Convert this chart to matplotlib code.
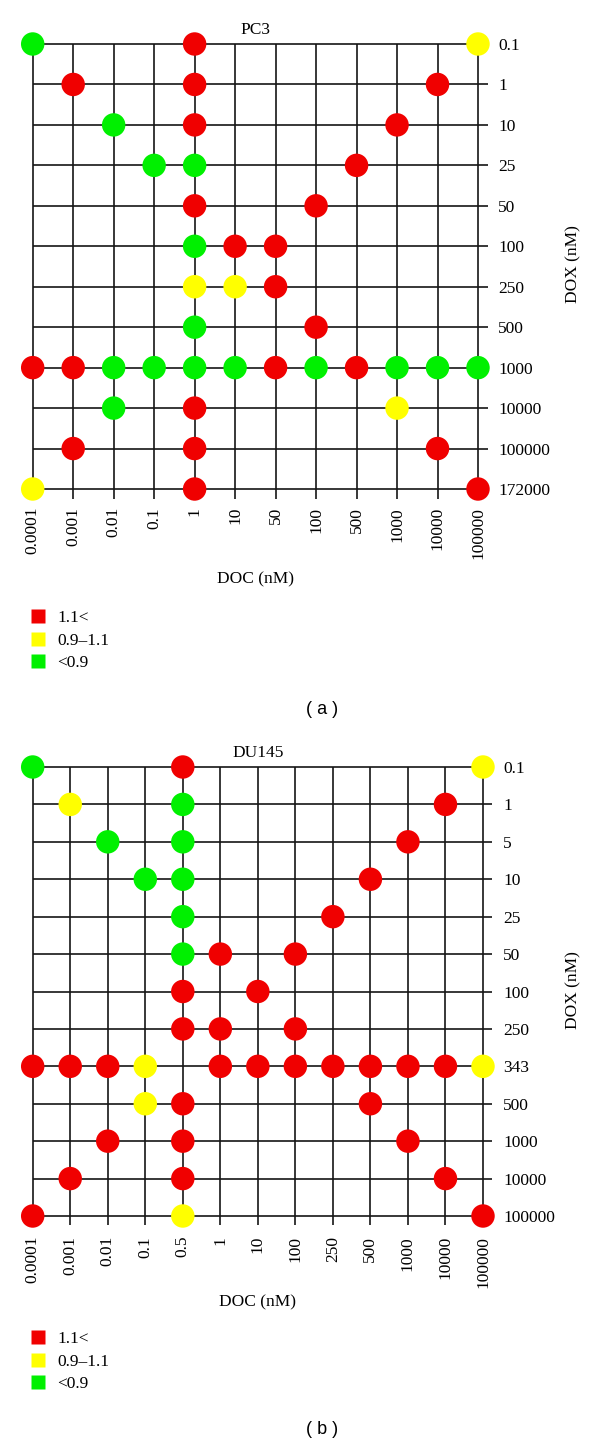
import matplotlib.pyplot as plt
from matplotlib.lines import Line2D

plt.rcParams['font.family'] = 'Liberation Serif'

COLORS = {'high': '#f00000', 'mid': '#ffff00', 'low': '#00f000'}
LEGEND_LABELS = {'high': '1.1<', 'mid': '0.9\u20131.1', 'low': '<0.9'}

# panel (a) PC3
PC3_DOC = ['0.0001', '0.001', '0.01', '0.1', '1', '10', '50', '100', '500',
           '1000', '10000', '100000']
PC3_DOX = ['0.1', '1', '10', '25', '50', '100', '250', '500', '1000',
           '10000', '100000', '172000']
# (DOX, DOC, class)
PC3_POINTS = [
    ('0.1', '0.0001', 'low'), ('0.1', '1', 'high'), ('0.1', '100000', 'mid'),
    ('1', '0.001', 'high'), ('1', '1', 'high'), ('1', '10000', 'high'),
    ('10', '0.01', 'low'), ('10', '1', 'high'), ('10', '1000', 'high'),
    ('25', '0.1', 'low'), ('25', '1', 'low'), ('25', '500', 'high'),
    ('50', '1', 'high'), ('50', '100', 'high'),
    ('100', '1', 'low'), ('100', '10', 'high'), ('100', '50', 'high'),
    ('250', '1', 'mid'), ('250', '10', 'mid'), ('250', '50', 'high'),
    ('500', '1', 'low'), ('500', '100', 'high'),
    ('1000', '0.0001', 'high'), ('1000', '0.001', 'high'), ('1000', '0.01', 'low'),
    ('1000', '0.1', 'low'), ('1000', '1', 'low'), ('1000', '10', 'low'),
    ('1000', '50', 'high'), ('1000', '100', 'low'), ('1000', '500', 'high'),
    ('1000', '1000', 'low'), ('1000', '10000', 'low'), ('1000', '100000', 'low'),
    ('10000', '0.01', 'low'), ('10000', '1', 'high'), ('10000', '1000', 'mid'),
    ('100000', '0.001', 'high'), ('100000', '1', 'high'), ('100000', '10000', 'high'),
    ('172000', '0.0001', 'mid'), ('172000', '1', 'high'), ('172000', '100000', 'high'),
]

# panel (b) DU145
DU145_DOC = ['0.0001', '0.001', '0.01', '0.1', '0.5', '1', '10', '100', '250',
             '500', '1000', '10000', '100000']
DU145_DOX = ['0.1', '1', '5', '10', '25', '50', '100', '250', '343', '500',
             '1000', '10000', '100000']
DU145_POINTS = [
    ('0.1', '0.0001', 'low'), ('0.1', '0.5', 'high'), ('0.1', '100000', 'mid'),
    ('1', '0.001', 'mid'), ('1', '0.5', 'low'), ('1', '10000', 'high'),
    ('5', '0.01', 'low'), ('5', '0.5', 'low'), ('5', '1000', 'high'),
    ('10', '0.1', 'low'), ('10', '0.5', 'low'), ('10', '500', 'high'),
    ('25', '0.5', 'low'), ('25', '250', 'high'),
    ('50', '0.5', 'low'), ('50', '1', 'high'), ('50', '100', 'high'),
    ('100', '0.5', 'high'), ('100', '10', 'high'),
    ('250', '0.5', 'high'), ('250', '1', 'high'), ('250', '100', 'high'),
    ('343', '0.0001', 'high'), ('343', '0.001', 'high'), ('343', '0.01', 'high'),
    ('343', '0.1', 'mid'), ('343', '1', 'high'), ('343', '10', 'high'),
    ('343', '100', 'high'), ('343', '250', 'high'), ('343', '500', 'high'),
    ('343', '1000', 'high'), ('343', '10000', 'high'), ('343', '100000', 'mid'),
    ('500', '0.1', 'mid'), ('500', '0.5', 'high'), ('500', '500', 'high'),
    ('1000', '0.01', 'high'), ('1000', '0.5', 'high'), ('1000', '1000', 'high'),
    ('10000', '0.001', 'high'), ('10000', '0.5', 'high'), ('10000', '10000', 'high'),
    ('100000', '0.0001', 'high'), ('100000', '0.5', 'mid'), ('100000', '100000', 'high'),
]

W, H = 600, 1447
fig = plt.figure(figsize=(W / 100, H / 100), dpi=100)


def draw_panel(doc, dox, points, title, x0, x1, y0, y1, bot, xpad, ypad,
               title_y, doclab_y, legend_top, caption, caption_y):
    ncol, nrow = len(doc), len(dox)
    dx = (x1 - x0) / (ncol - 1)
    dy = (y1 - y0) / (nrow - 1)
    left = x0 - 0.5 * dx
    right = x1 + 0.5 * dx
    top = y0 - 0.5 * dy
    bottom = y1 + bot * dy
    ax = fig.add_axes([left / W, 1 - bottom / H, (right - left) / W, (bottom - top) / H])
    ax.set_xlim(-0.5, ncol - 0.5)
    ax.set_ylim(nrow - 1 + bot, -0.5)
    for s in ax.spines.values():
        s.set_visible(False)

    # grid lines, each running a little past the last row / column
    ax.hlines(range(nrow), 0, ncol - 1 + 0.25, color='#151515', lw=1.2, clip_on=False)
    ax.vlines(range(ncol), 0, nrow - 1 + 0.25, color='#151515', lw=1.2, clip_on=False)

    xs = [doc.index(p[1]) for p in points]
    ys = [dox.index(p[0]) for p in points]
    cs = [COLORS[p[2]] for p in points]
    ax.scatter(xs, ys, s=285, c=cs, edgecolors='none', zorder=3, clip_on=False)

    ax.set_xticks(range(ncol))
    ax.set_xticklabels(doc, rotation=90, fontsize=12.5)
    ax.set_yticks(range(nrow))
    ax.set_yticklabels(dox, fontsize=12.5)
    ax.tick_params(axis='x', length=0, pad=xpad)
    ax.tick_params(axis='y', length=0, pad=ypad, labelleft=False, labelright=True)

    mid_x = (ncol - 1) / 2
    ax.text(mid_x, title_y, title, ha='center', va='center', fontsize=12.5)
    ax.text(mid_x, doclab_y, 'DOC (nM)', ha='center', va='center', fontsize=12.5)
    ax.text(573, H - (top + bottom) / 2, 'DOX (nM)', rotation=90, ha='center',
            va='center', fontsize=12.5, transform=None)

    handles = [Line2D([], [], ls='none', marker='s', markersize=9.4,
                      markerfacecolor=COLORS[k], markeredgecolor='none',
                      label=LEGEND_LABELS[k]) for k in ['high', 'mid', 'low']]
    fig.legend(handles=handles, loc='upper left', frameon=False, fontsize=12.5,
               bbox_to_anchor=(31 / W, 1 - legend_top / H), borderpad=0,
               borderaxespad=0, handlelength=0.75, handletextpad=0.75,
               labelspacing=0.37)

    fig.text(322 / W, 1 - caption_y / H, caption, ha='center', va='center',
             fontsize=13, family='Liberation Sans')
    return ax


draw_panel(PC3_DOC, PC3_DOX, PC3_POINTS, 'PC3', 32.7, 478, 44, 489,
           bot=0.4, xpad=1.3, ypad=0, title_y=-0.35, doclab_y=13.23,
           legend_top=610, caption='( a )', caption_y=710)

draw_panel(DU145_DOC, DU145_DOX, DU145_POINTS, 'DU145', 32.7, 483, 767, 1216,
           bot=0.4, xpad=3.6, ypad=1, title_y=-0.37, doclab_y=14.32,
           legend_top=1331, caption='( b )', caption_y=1430)

fig.savefig('out.png', dpi=100, facecolor='white')
